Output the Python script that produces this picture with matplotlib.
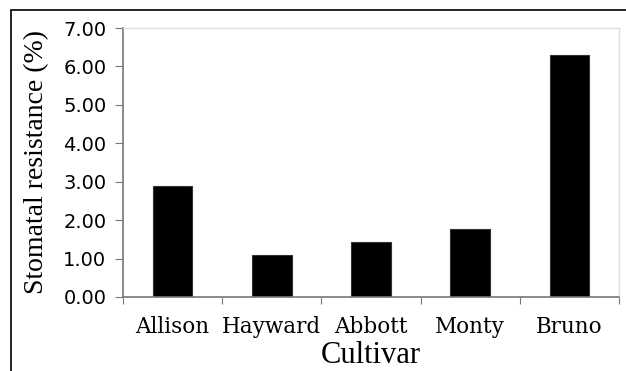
import matplotlib.pyplot as plt
from matplotlib.patches import Rectangle

cultivars = ["Allison", "Hayward", "Abbott", "Monty", "Bruno"]
resistance = [2.90, 1.08, 1.43, 1.78, 6.30]
yticks = [0, 1, 2, 3, 4, 5, 6, 7]

fig = plt.figure(figsize=(6.26, 3.71), dpi=100)
ax = fig.add_axes([123/626, 1-297/371, (619-123)/626, (297-28)/371])

x = range(len(cultivars))
ax.bar(x, resistance, width=0.4, color="black", edgecolor="#333333", linewidth=0.8)
ax.set_xlim(-0.5, len(cultivars)-0.5)
ax.set_ylim(0, 7)
ax.set_yticks(yticks)
ax.set_yticklabels([f"{v:.2f}" for v in yticks], fontsize=14, family="DejaVu Sans")
ax.set_xticks([i + 0.5 for i in range(-1, len(cultivars))], minor=False)
ax.set_xticklabels([])
ax.set_xticks(list(x), minor=True)
ax.set_xticklabels(cultivars, minor=True, fontsize=15.5, family="DejaVu Serif")
ax.tick_params(axis="x", which="minor", length=0, pad=14)
ax.tick_params(axis="x", which="major", length=5, direction="out", color="#777777")
ax.tick_params(axis="y", length=6, direction="out", color="#777777", pad=6)

for s in ["left", "bottom"]:
    ax.spines[s].set_color("#777777")
    ax.spines[s].set_linewidth(1.2)
for s in ["top", "right"]:
    ax.spines[s].set_color("#dddddd")
    ax.spines[s].set_linewidth(1.0)

ax.set_ylabel("Stomatal resistance (%)", fontsize=20, family="Liberation Serif", labelpad=10)
ax.set_xlabel("Cultivar", fontsize=22, family="Liberation Serif", labelpad=1.5)

# frame around the picture (cut at right and bottom)
fig.patches.append(Rectangle((11/626, -0.1), 1.2, 1-10/371+0.1, transform=fig.transFigure,
                             fill=False, edgecolor="black", linewidth=1.2))

fig.savefig("out.png", dpi=100)
